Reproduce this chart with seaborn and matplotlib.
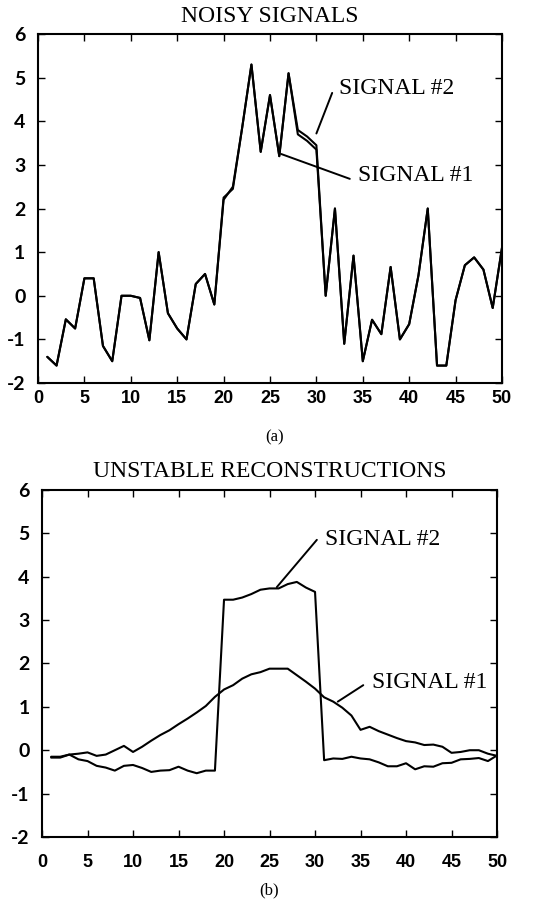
import numpy as np
import pandas as pd
import matplotlib
matplotlib.use('Agg')
import matplotlib.pyplot as plt
import seaborn as sns

# sample index
x = list(range(1, 51))

# (a) noisy signals
noisy_1 = [-1.4, -1.6, -0.54, -0.75, 0.4, 0.4, -1.15, -1.5, 0.0, 0.0,
           -0.05, -1.02, 1.0, -0.4, -0.75, -1.0, 0.27, 0.5, -0.2, 2.2,
           2.5, 3.85, 5.3, 3.3, 4.6, 3.2, 5.1, 3.7, 3.55, 3.35,
           0.0, 2.0, -1.1, 0.92, -1.5, -0.55, -0.88, 0.66, -1.0, -0.65,
           0.47, 2.0, -1.6, -1.6, -0.1, 0.7, 0.88, 0.6, -0.28, 1.1]
noisy_2 = [-1.4, -1.6, -0.54, -0.75, 0.4, 0.4, -1.15, -1.5, 0.0, 0.0,
           -0.05, -1.02, 1.0, -0.4, -0.75, -1.0, 0.27, 0.5, -0.2, 2.25,
           2.45, 3.85, 5.3, 3.3, 4.6, 3.2, 5.1, 3.8, 3.65, 3.45,
           0.0, 2.0, -1.1, 0.92, -1.5, -0.55, -0.88, 0.66, -1.0, -0.65,
           0.47, 2.0, -1.6, -1.6, -0.1, 0.7, 0.88, 0.6, -0.28, 1.1]

# (b) reconstructions
recon_1 = [-0.15, -0.15, -0.1, -0.08, -0.05, -0.13, -0.1, 0.0, 0.1, -0.04,
           0.08, 0.22, 0.35, 0.46, 0.6, 0.73, 0.87, 1.02, 1.23, 1.4,
           1.5, 1.65, 1.75, 1.8, 1.88, 1.88, 1.88, 1.73, 1.58, 1.42,
           1.22, 1.12, 0.98, 0.8, 0.47, 0.54, 0.44, 0.36, 0.28, 0.21,
           0.18, 0.12, 0.13, 0.08, -0.06, -0.04, 0.0, 0.0, -0.08, -0.13]
recon_2 = [-0.17, -0.17, -0.1, -0.21, -0.25, -0.36, -0.4, -0.47, -0.36, -0.34,
           -0.41, -0.5, -0.47, -0.46, -0.38, -0.47, -0.53, -0.47, -0.47, 3.47,
           3.47, 3.52, 3.6, 3.7, 3.73, 3.73, 3.83, 3.88, 3.75, 3.65,
           -0.23, -0.19, -0.2, -0.15, -0.19, -0.21, -0.28, -0.37, -0.37, -0.3,
           -0.44, -0.37, -0.38, -0.3, -0.29, -0.21, -0.2, -0.18, -0.25, -0.12]

x_ticks = [0, 5, 10, 15, 20, 25, 30, 35, 40, 45, 50]
y_ticks = [-2, -1, 0, 1, 2, 3, 4, 5, 6]

sns.set_style("ticks")
plt.rcParams['axes.unicode_minus'] = False
plt.rcParams['text.color'] = 'black'
plt.rcParams['xtick.color'] = 'black'
plt.rcParams['ytick.color'] = 'black'
serif = ['Liberation Serif', 'DejaVu Serif']

fig = plt.figure(figsize=(5.5, 9.07), dpi=100)
ax1 = fig.add_axes([0.0691, 0.5777, 0.8436, 0.3848])
ax2 = fig.add_axes([0.0764, 0.0772, 0.8273, 0.3826])


def style_axes(ax, title, xpad):
    ax.set_xlim(0, 50)
    ax.set_ylim(-2, 6)
    ax.set_xticks(x_ticks)
    ax.set_yticks(y_ticks)
    ax.set_xlabel('')
    ax.set_ylabel('')
    ax.tick_params(direction='in', top=True, right=True, length=5, width=1,
                   colors='black')
    ax.tick_params(axis='x', pad=xpad)
    ax.tick_params(axis='y', pad=9)
    for lab in ax.get_xticklabels():
        lab.set_fontfamily(['Liberation Sans', 'DejaVu Sans'])
        lab.set_fontweight('bold')
        lab.set_fontsize(13)
    for lab in ax.get_yticklabels():
        lab.set_fontfamily(['Lato', 'DejaVu Sans'])
        lab.set_fontweight('bold')
        lab.set_fontsize(14)
    for sp in ax.spines.values():
        sp.set_visible(True)
        sp.set_linewidth(1.5)
        sp.set_color('black')
    ax.set_title(title, fontfamily=serif, fontsize=17, pad=9, color='black')
    if ax.get_legend():
        ax.get_legend().remove()


def label(ax, text, tx, ty, p0, p1):
    ax.text(tx, ty, text, fontfamily=serif, fontsize=17, ha='left',
            va='center', color='black')
    ax.annotate('', xy=p1, xytext=p0,
                arrowprops=dict(arrowstyle='-', lw=1.4, color='black',
                                shrinkA=0, shrinkB=0))


sns.lineplot(x=x, y=noisy_2, color='black', lw=1.5, ax=ax1)
sns.lineplot(x=x, y=noisy_1, color='black', lw=1.5, ax=ax1)
style_axes(ax1, 'NOISY SIGNALS', 5)
label(ax1, 'SIGNAL #2', 32.4, 4.76, (31.7, 4.65), (30.0, 3.72))
label(ax1, 'SIGNAL #1', 34.5, 2.76, (33.6, 2.68), (26.2, 3.25))

sns.lineplot(x=x, y=recon_1, color='black', lw=1.5, ax=ax2)
sns.lineplot(x=x, y=recon_2, color='black', lw=1.5, ax=ax2)
style_axes(ax2, 'UNSTABLE RECONSTRUCTIONS', 12)
label(ax2, 'SIGNAL #2', 31.1, 4.85, (30.2, 4.85), (25.8, 3.76))
label(ax2, 'SIGNAL #1', 36.3, 1.55, (35.3, 1.5), (32.5, 1.12))

fig.text(0.5, 1 - 437 / 907, '(a)', fontfamily=serif, fontsize=12,
         ha='center', va='center')
fig.text(0.49, 1 - 890 / 907, '(b)', fontfamily=serif, fontsize=12,
         ha='center', va='center')

fig.savefig('out.png', dpi=100)
